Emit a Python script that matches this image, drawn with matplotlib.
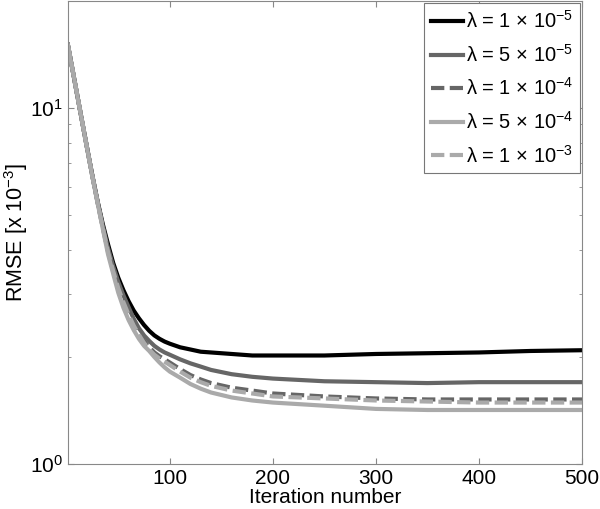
import numpy as np
import matplotlib
matplotlib.use('Agg')
import matplotlib.pyplot as plt

plt.rcParams['font.family'] = ['Liberation Sans', 'DejaVu Sans']
plt.rcParams['mathtext.fontset'] = 'custom'
plt.rcParams['mathtext.rm'] = 'Liberation Sans'
plt.rcParams['mathtext.it'] = 'Liberation Sans:italic'

iters = [1, 5, 10, 15, 20, 25, 30, 35, 40, 45, 50, 55, 60, 65, 70, 75, 80, 85, 90,
         95, 100, 110, 120, 130, 140, 160, 180, 200, 250, 300, 350, 400, 450, 500]

rmse_1e5 = [15.1, 13.1, 10.94, 9.14, 7.66, 6.43, 5.46, 4.72, 4.15, 3.68, 3.34, 3.08,
            2.87, 2.70, 2.57, 2.46, 2.37, 2.30, 2.25, 2.21, 2.18, 2.13, 2.10, 2.07,
            2.06, 2.04, 2.02, 2.02, 2.02, 2.04, 2.05, 2.06, 2.08, 2.09]
rmse_5e5 = [15.1, 13.1, 10.94, 9.14, 7.65, 6.42, 5.44, 4.66, 4.05, 3.60, 3.25, 2.98,
            2.76, 2.56, 2.41, 2.30, 2.22, 2.15, 2.10, 2.06, 2.03, 1.97, 1.92, 1.88,
            1.84, 1.79, 1.76, 1.74, 1.71, 1.70, 1.69, 1.70, 1.70, 1.70]
rmse_1e4 = [15.1, 13.1, 10.94, 9.14, 7.64, 6.41, 5.42, 4.62, 3.98, 3.52, 3.16, 2.88,
            2.66, 2.48, 2.34, 2.22, 2.13, 2.06, 2.01, 1.97, 1.93, 1.85, 1.78, 1.73,
            1.69, 1.64, 1.61, 1.58, 1.55, 1.53, 1.52, 1.52, 1.52, 1.52]
rmse_5e4 = [15.1, 13.1, 10.94, 9.14, 7.63, 6.39, 5.40, 4.58, 3.89, 3.43, 3.03, 2.75,
            2.54, 2.38, 2.25, 2.15, 2.08, 2.0, 1.93, 1.87, 1.82, 1.75, 1.68, 1.63,
            1.59, 1.54, 1.51, 1.49, 1.46, 1.43, 1.42, 1.42, 1.42, 1.42]
rmse_1e3 = [15.1, 13.1, 10.94, 9.14, 7.64, 6.40, 5.41, 4.60, 3.95, 3.49, 3.12, 2.85,
            2.63, 2.45, 2.31, 2.19, 2.10, 2.03, 1.98, 1.94, 1.90, 1.82, 1.75, 1.70,
            1.66, 1.61, 1.58, 1.55, 1.53, 1.51, 1.50, 1.49, 1.49, 1.49]

labels = ['λ = 1 × 10$^{-5}$',
          'λ = 5 × 10$^{-5}$',
          'λ = 1 × 10$^{-4}$',
          'λ = 5 × 10$^{-4}$',
          'λ = 1 × 10$^{-3}$']

dark = '#666666'
light = '#aaaaaa'
dash = (0, (3.2, 1.3))

fig = plt.figure(figsize=(6, 5.09), dpi=100)
ax = fig.add_axes([0.113, 0.088, 0.857, 0.910])

lw = 3
ax.plot(iters, rmse_1e5, color='k', lw=lw, label=labels[0])
ax.plot(iters, rmse_5e5, color=dark, lw=lw, label=labels[1])
ax.plot(iters, rmse_1e4, color=dark, lw=lw, ls=dash, label=labels[2])
ax.plot(iters, rmse_5e4, color=light, lw=lw, label=labels[3])
ax.plot(iters, rmse_1e3, color=light, lw=lw, ls=dash, label=labels[4])

ax.set_yscale('log')
ax.set_xlim(1, 500)
ax.set_ylim(1, 20)
ax.set_xticks([100, 200, 300, 400, 500])

for s in ax.spines.values():
    s.set_color('#888888')
ax.tick_params(which='both', direction='in', top=True, right=True,
               color='#888888', labelsize=15)
ax.tick_params(which='major', length=4)
ax.tick_params(which='minor', length=2.5)

ax.set_xlabel('Iteration number', fontsize=15, labelpad=0)
ax.set_ylabel(r'RMSE [x 10$^{-3}$]', fontsize=15.5, labelpad=0)

leg = ax.legend(loc='upper right', fontsize=14.5, handlelength=1.6,
                handletextpad=0.1, borderaxespad=0.1, borderpad=0.35,
                labelspacing=0.58, fancybox=False, framealpha=1)
leg.get_frame().set_edgecolor('#777777')
leg.get_frame().set_linewidth(0.8)

fig.savefig('out.png', dpi=100)
